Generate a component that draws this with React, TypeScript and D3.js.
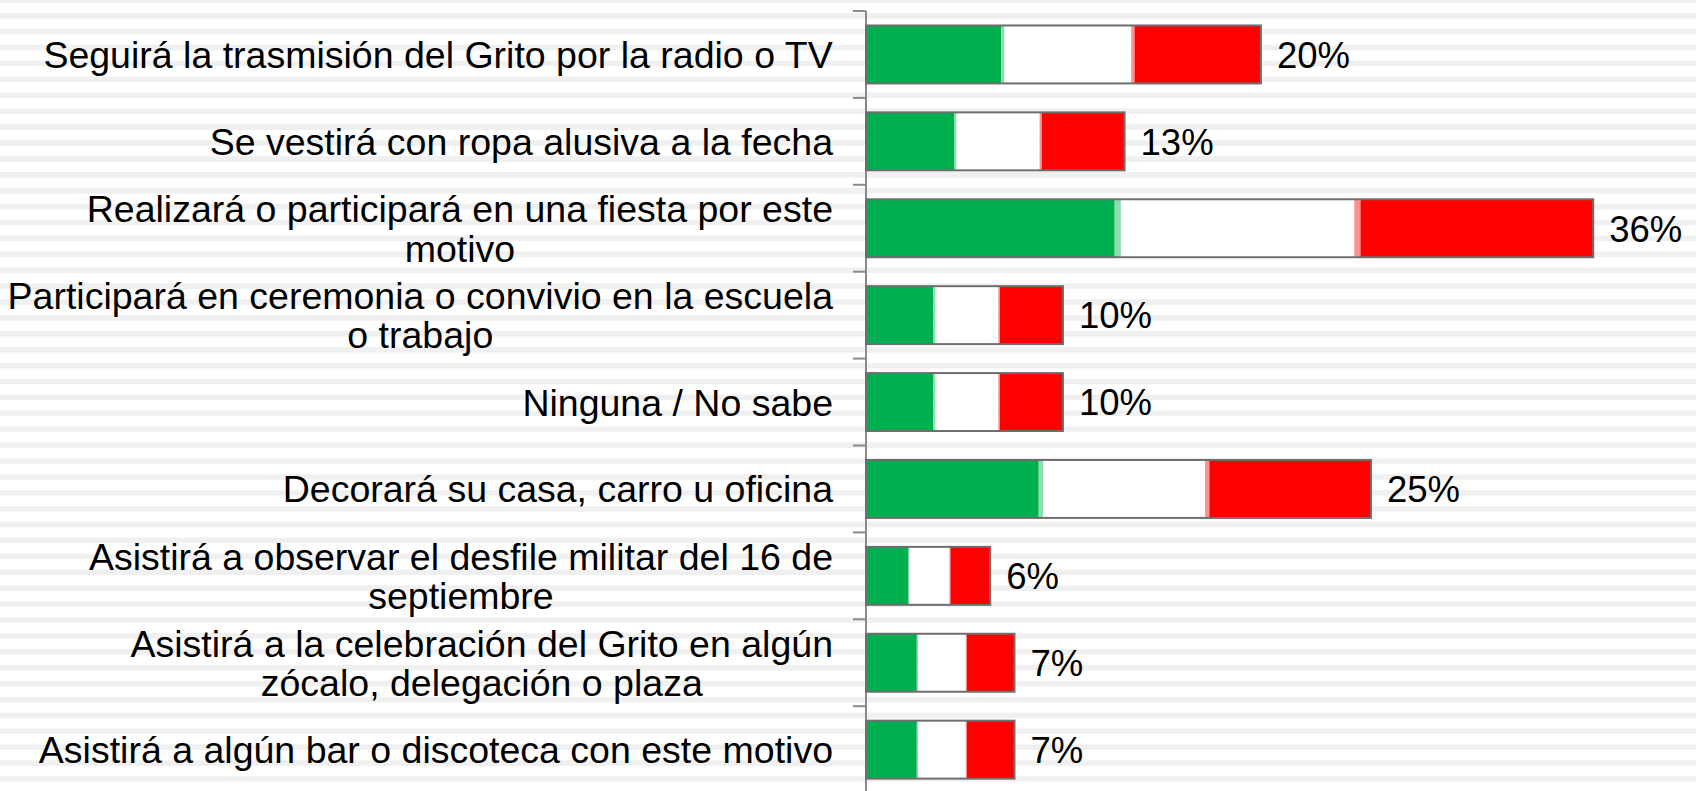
import React, { useMemo } from "react";
import * as d3 from "d3";

const categories = [
  "Seguirá la trasmisión del Grito por la radio o TV",
  "Se vestirá con ropa alusiva a la fecha",
  "Realizará o participará en una fiesta por este motivo",
  "Participará en ceremonia o convivio en la escuela o trabajo",
  "Ninguna / No sabe",
  "Decorará su casa, carro u oficina",
  "Asistirá a observar el desfile militar del 16 de septiembre",
  "Asistirá a la celebración del Grito en algún zócalo, delegación o plaza",
  "Asistirá a algún bar o discoteca con este motivo",
];
const values = [19.55, 12.8, 36.0, 9.75, 9.75, 25.0, 6.15, 7.35, 7.35];
const valueLabels = ["20%", "13%", "36%", "10%", "10%", "25%", "6%", "7%", "7%"];

// flag-coloured thirds of each bar (green, white, red) with thin blended seams
const segmentShares = [0.342, 0.0085, 0.321, 0.0085, 0.32];
const segmentColors = ["#00b050", "#8fdcb0", "#ffffff", "#ff9090", "#ff0000"];

const W = 1696;
const H = 791;
const FONT = "'Liberation Sans', Arial, Helvetica, sans-serif";
const FS = 37.5;
const VFS = 36.5;

export default function App() {
  const y = d3
    .scaleBand<string>()
    .domain(categories)
    .range([11, 11 + 86.9 * categories.length])
    .paddingInner(0.333)
    .paddingOuter(0.1665);
  const x = d3.scaleLinear().domain([0, 40]).range([866, 866 + 808]);
  const step = y.step();
  const rangeStart = y.range()[0];

  const wrapped = useMemo(() => {
    const canvas = document.createElement("canvas");
    const ctx = canvas.getContext("2d")!;
    ctx.font = `${FS}px ${FONT}`;
    const maxW = 827;
    return categories.map((c) => {
      const words = c.split(" ");
      const lines: string[] = [];
      let cur = "";
      for (const w of words) {
        const t = cur ? cur + " " + w : w;
        if (ctx.measureText(t).width > maxW && cur) {
          lines.push(cur);
          cur = w;
        } else cur = t;
      }
      if (cur) lines.push(cur);
      const widths = lines.map((l) => ctx.measureText(l).width);
      return { lines, blockW: Math.max(...widths) };
    });
  }, []);

  const stripes = d3.range(0, 52).map((k) => -2.9 + 15.9 * k);
  const ticks = d3.range(0, categories.length + 1).map((k) => rangeStart + k * step);

  return (
    <svg
      width={W}
      height={H}
      style={{ position: "absolute", left: 0, top: 0, background: "#ffffff" }}
      fontFamily={FONT}
    >
      {stripes.map((sy, i) => (
        <rect key={i} x={0} y={sy} width={W} height={5.6} fill="#f0f0f0" />
      ))}

      {/* axis */}
      <line x1={866} x2={866} y1={ticks[0]} y2={H + 5} stroke="#8a8a8a" strokeWidth={2} />
      {ticks.map((t, i) => (
        <line key={i} x1={853} x2={866} y1={t} y2={t} stroke="#8a8a8a" strokeWidth={2} />
      ))}

      {categories.map((c, i) => {
        const y0 = y(c)!;
        const bh = y.bandwidth();
        const total = x(values[i]) - x(0);
        let acc = x(0);
        const segs = segmentShares.map((s, j) => {
          const w = s * total;
          const r = (
            <rect key={j} x={acc} y={y0} width={w} height={bh} fill={segmentColors[j]} />
          );
          acc += w;
          return r;
        });
        const cy = y0 + bh / 2;
        const wr = wrapped[i];
        const n = wr.lines.length;
        const lh = 39.5;
        return (
          <g key={c}>
            {segs}
            <rect
              x={x(0)}
              y={y0}
              width={total}
              height={bh}
              fill="none"
              stroke="#6e6e6e"
              strokeWidth={2}
            />
            <text
              x={x(values[i]) + 16}
              y={cy + VFS * 0.365}
              fontSize={VFS}
              fill="#000"
            >
              {valueLabels[i]}
            </text>
            {wr.lines.map((l, k) => (
              <text
                key={k}
                x={833 - wr.blockW / 2}
                y={cy + (k - (n - 1) / 2) * lh + FS * 0.36}
                fontSize={FS}
                textAnchor="middle"
                fill="#000"
              >
                {l}
              </text>
            ))}
          </g>
        );
      })}
    </svg>
  );
}
